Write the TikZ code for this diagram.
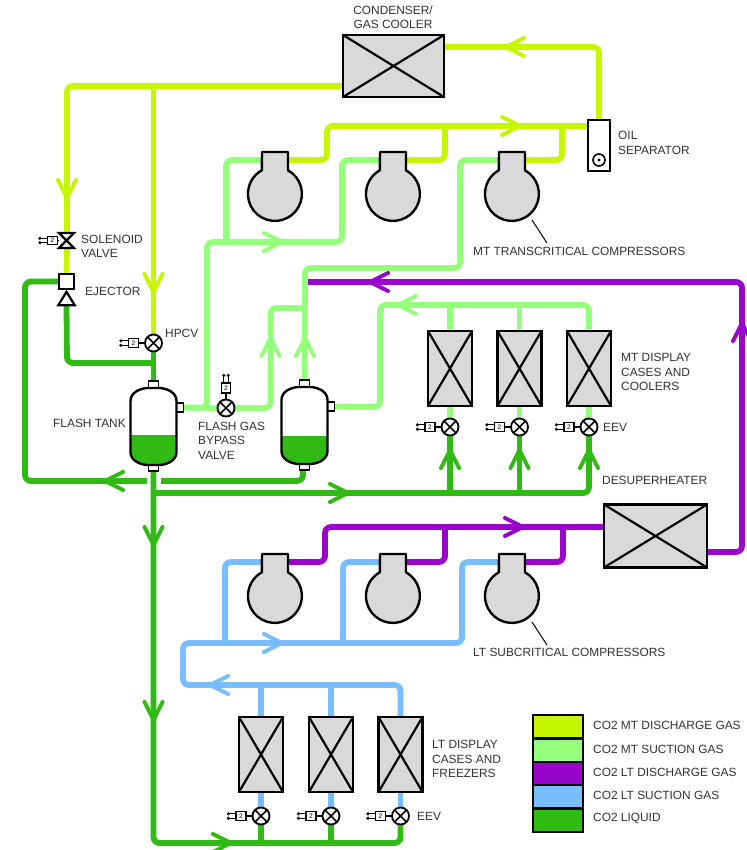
\documentclass[tikz,border=0pt]{standalone}
\usepackage{fontspec}
\setmainfont{Liberation Sans}
\usetikzlibrary{backgrounds}
\definecolor{cyel}{HTML}{C6F700}
\definecolor{clgr}{HTML}{94FF7A}
\definecolor{cpur}{HTML}{9A05CC}
\definecolor{cblu}{HTML}{78BDFF}
\definecolor{cgrn}{HTML}{2FBB14}
\definecolor{cfil}{HTML}{D9D9D9}
\definecolor{ctxt}{HTML}{333333}
\tikzset{
  pipe/.style={line width=5.8pt,rounded corners=6pt,line cap=butt},
  flowtip/.style={line width=4pt,line cap=round,line join=miter},
  xbox/.style={draw=black,fill=cfil,line width=2.4pt,rectangle,inner sep=0pt,outer sep=0pt,
    path picture={\draw[black,line width=2.2pt] (path picture bounding box.north west)--(path picture bounding box.south east)
      (path picture bounding box.north east)--(path picture bounding box.south west);}},
  case/.style={xbox,minimum width=44pt,minimum height=75pt},
  xvalve/.style={circle,draw=black,fill=white,line width=1.8pt,minimum size=17pt,inner sep=0pt,outer sep=0pt,
    path picture={\draw[black,line width=1.6pt] (path picture bounding box.north west)--(path picture bounding box.south east)
      (path picture bounding box.north east)--(path picture bounding box.south west);}},
  actbox/.style={draw=black,fill=white,line width=1.2pt,minimum width=10pt,minimum height=8.5pt,inner sep=0pt,font=\fontsize{6.5}{6.5}\selectfont},
  fitt/.style={draw=black,fill=white,line width=1.6pt,inner sep=0pt,outer sep=0pt},
  lbl/.style={anchor=west,inner sep=0pt,text=ctxt,align=left,font=\fontsize{11.9}{14.4}\selectfont},
  swatch/.style={draw=black,line width=2.4pt,minimum width=50pt,minimum height=23.4pt,inner sep=0pt,outer sep=0pt},
  dev/.style={draw=black,line width=2.4pt,line join=round},
}
\newcommand\tipR[2]{\draw[#1,flowtip] ([shift={(-18pt,9pt)}]#2)--(#2)--([shift={(-18pt,-9pt)}]#2);}
\newcommand\tipL[2]{\draw[#1,flowtip] ([shift={(18pt,9pt)}]#2)--(#2)--([shift={(18pt,-9pt)}]#2);}
\newcommand\tipU[2]{\draw[#1,flowtip] ([shift={(-9pt,-18pt)}]#2)--(#2)--([shift={(9pt,-18pt)}]#2);}
\newcommand\tipD[2]{\draw[#1,flowtip] ([shift={(-9pt,18pt)}]#2)--(#2)--([shift={(9pt,18pt)}]#2);}
% compressor: name, x, y of circle centre
\newcommand\compressor[3]{%
  \node[circle,minimum size=54pt,inner sep=0pt] (#1) at (#2,#3) {};
  \coordinate (#1in) at ([shift={(-13pt,34pt)}]#1.center);
  \coordinate (#1out) at ([shift={(13pt,34pt)}]#1.center);
  \draw[dev,fill=cfil] ([shift={(-13pt,42pt)}]#1.center)--([shift={(13pt,42pt)}]#1.center)
    --([shift={(13pt,23.7pt)}]#1.center) arc[start angle=61,end angle=-241,radius=27pt]--cycle;}
% actuator left of a valve: name, valve, distance
\newcommand\actL[3]{%
  \node[actbox] (#1) at ([xshift=-#3pt]#2.center) {2};
  \draw[black,line width=1.2pt] (#1.east)--(#2.west);
  \draw[black,line width=1.2pt] ([yshift=2.2pt]#1.west)--++(-6pt,0pt) ([yshift=-2.2pt]#1.west)--++(-6pt,0pt);
  \fill[black] ([shift={(-7pt,2.2pt)}]#1.west) circle (1.7pt) ([shift={(-7pt,-2.2pt)}]#1.west) circle (1.7pt);}
% tank: name, x, top y, bottom y, liquid level
\newcommand\tankpath[3]{(#1-23,#2+13) .. controls (#1-23,#2+5) and (#1-15,#2+1) .. (#1-7,#2) -- (#1+7,#2)
  .. controls (#1+15,#2+1) and (#1+23,#2+5) .. (#1+23,#2+13) -- (#1+23,#3-13)
  .. controls (#1+23,#3-5) and (#1+15,#3-1) .. (#1+7,#3) -- (#1-7,#3)
  .. controls (#1-15,#3-1) and (#1-23,#3-5) .. (#1-23,#3-13) -- cycle}
\newcommand\tank[5]{%
  \node[fitt,minimum width=10pt,minimum height=7pt] (#1top) at (#2,#3-3.5) {};
  \node[fitt,minimum width=10pt,minimum height=6pt] (#1bot) at (#2,#4+3) {};
  \node[fitt,minimum width=7pt,minimum height=9pt] (#1side) at (#2+26.5,#3+19.5) {};
  \fill[white] \tankpath{#2}{#3}{#4};
  \begin{scope}
    \clip \tankpath{#2}{#3}{#4};
    \fill[cgrn] (#2-25,#5) rectangle (#2+25,#4+2);
  \end{scope}
  \draw[dev] \tankpath{#2}{#3}{#4};}
\begin{document}
\begin{tikzpicture}[x=1pt,y=-1pt]
\useasboundingbox (0,0) rectangle (746,850);
% ---------- equipment
\node[xbox,minimum width=101pt,minimum height=62pt] (cond) at (393.5,66) {};
\node[xbox,minimum width=103pt,minimum height=63pt] (desup) at (655.5,536) {};
\node[draw=black,fill=white,line width=2.2pt,minimum width=22pt,minimum height=51pt,inner sep=0pt,outer sep=0pt] (oilsep) at (599,145.5) {};
\node[circle,draw=black,line width=1.6pt,minimum size=12pt,inner sep=0pt] (oildot) at (599,160) {};
\fill[black] (oildot.center) circle (1.6pt);
\compressor{mta}{275}{194}
\compressor{mtb}{393}{194}
\compressor{mtc}{512}{194}
\compressor{lta}{275}{596}
\compressor{ltb}{393}{596}
\compressor{ltc}{512}{596}
\tank{ta}{153.5}{388}{465}{435}
\tank{tb}{304.5}{387}{464}{436}
% display cases
\node[case] (mc1) at (450,368.5) {};
\node[case] (mc2) at (519.5,368.5) {};
\node[case] (mc3) at (589,368.5) {};
\node[case] (lc1) at (261,754.5) {};
\node[case] (lc2) at (331,754.5) {};
\node[case] (lc3) at (400.5,754.5) {};
% valves
\node[xvalve] (hpcv) at (153.5,343) {};
\node[xvalve] (fgb) at (226,408) {};
\node[xvalve] (me1) at (450,427) {};
\node[xvalve] (me2) at (519.5,427) {};
\node[xvalve] (me3) at (589,427) {};
\node[xvalve] (le1) at (261,816) {};
\node[xvalve] (le2) at (331,816) {};
\node[xvalve] (le3) at (400.5,816) {};
\actL{ahp}{hpcv}{20}
\actL{am1}{me1}{20}
\actL{am2}{me2}{20}
\actL{am3}{me3}{20}
\actL{al1}{le1}{20}
\actL{al2}{le2}{20}
\actL{al3}{le3}{20}
% flash gas bypass actuator (above valve)
\node[actbox,minimum width=8.5pt,minimum height=10pt] (afg) at ([yshift=20pt]fgb.center) {2};
\draw[black,line width=1.2pt] (afg.south)--(fgb.north);
\draw[black,line width=1.2pt] ([xshift=-2.2pt]afg.north)--++(0,-6) ([xshift=2.2pt]afg.north)--++(0,-6);
\fill[black] ([shift={(-2.2pt,7pt)}]afg.north) circle (1.7pt) ([shift={(2.2pt,7pt)}]afg.north) circle (1.7pt);
% solenoid valve
\node[inner sep=0pt,minimum size=15pt] (sol) at (66.5,240.5) {};
\draw[black,fill=white,line width=2.2pt,line join=miter] (59,233)--(74,233)--(66.5,240.5)--(59,248)--(74,248)--(66.5,240.5)--cycle;
\actL{aso}{sol}{14}
% ejector
\node[fitt,line width=2.2pt,minimum size=15pt] (ejbox) at (66.5,281.5) {};
\node[inner sep=0pt,minimum width=16pt,minimum height=13pt] (ejtri) at (66.5,298.5) {};
\draw[black,fill=white,line width=2.2pt,line join=miter] (ejtri.north)--(ejtri.south east)--(ejtri.south west)--cycle;
% ---------- piping, behind equipment
\begin{pgfonlayer}{background}
\fill[white] (0,0) rectangle (746,850);
% MT discharge
\coordinate (sepT) at (oilsep.north);
\coordinate (sepL) at (oilsep.west |- 126,126);
\draw[pipe,cyel] (cond.east |- 445,47)--(599,47)--(sepT);
\draw[pipe,cyel] (sepL)--(327,126)--(327,160)--(mtaout);
\draw[pipe,cyel] (mtbout)--(445,160)--(445,124);
\draw[pipe,cyel] (mtcout)--(562,160)--(562,124);
\draw[pipe,cyel] (cond.west |- 342,86)--(67,86)--(67,233);
\draw[pipe,cyel] (67,248)--(ejbox.north);
\draw[pipe,cyel] (153.5,84)--(hpcv.north);
% MT suction
\draw[pipe,clgr] (mtain)--(226,160)--(226,244);
\draw[pipe,clgr] (mtbin)--(342,160)--(342,242)--(207,242)--(207,408)--(taside.east);
\draw[pipe,clgr] (mtcin)--(460,160)--(460,268)--(305,268)--(tbtop.north);
\draw[pipe,clgr] (fgb.east)--(270.5,408)--(270.5,308)--(307,308);
\draw[pipe,clgr] (taside.east)--(fgb.west);
\draw[pipe,clgr] (tbside.east)--(380,407)--(380,305)--(589,305)--(mc3.north);
\draw[pipe,clgr] (450,303)--(mc1.north);
\draw[pipe,clgr] (519.5,303)--(mc2.north);
\draw[pipe,clgr] (mc1.south)--(me1.north);
\draw[pipe,clgr] (mc2.south)--(me2.north);
\draw[pipe,clgr] (mc3.south)--(me3.north);
% LT discharge
\draw[pipe,cpur] (desup.west |- 603,527)--(325,527)--(325,562)--(ltaout);
\draw[pipe,cpur] (ltbout)--(445,562)--(445,525);
\draw[pipe,cpur] (ltcout)--(563,562)--(563,525);
\draw[pipe,cpur] (desup.east |- 708,552)--(742,552)--(742,282)--(308,282);
% LT suction
\draw[pipe,cblu] (ltain)--(225,562)--(225,645);
\draw[pipe,cblu] (ltbin)--(343,562)--(343,645);
\draw[pipe,cblu] (ltcin)--(462,562)--(462,643)--(183,643)--(183,685)--(400.5,685)--(lc3.north);
\draw[pipe,cblu] (261,683)--(lc1.north);
\draw[pipe,cblu] (331,683)--(lc2.north);
\draw[pipe,cblu] (lc1.south)--(le1.north);
\draw[pipe,cblu] (lc2.south)--(le2.north);
\draw[pipe,cblu] (lc3.south)--(le3.north);
% liquid
\draw[pipe,cgrn] (hpcv.south)--(tatop.north);
\draw[pipe,cgrn] (153.5,363)--(67,363)--(ejtri.south);
\draw[pipe,cgrn] (ejbox.west)--(25,281.5)--(25,481)--(147,481);
\draw[pipe,cgrn] (161,481)--(303,481)--(303,470);
\draw[pipe,cgrn] (tabot.south)--(153.5,843)--(400.5,843)--(le3.south);
\draw[pipe,cgrn] (le1.south)--(261,845);
\draw[pipe,cgrn] (le2.south)--(331,845);
\draw[pipe,cgrn] (153.5,493)--(589,493)--(me3.south);
\draw[pipe,cgrn] (me1.south)--(450,495);
\draw[pipe,cgrn] (me2.south)--(519.5,495);
\end{pgfonlayer}
% ---------- flow direction heads
\coordinate (h1) at (506,47);\tipL{cyel}{h1}
\coordinate (h2) at (520,126);\tipR{cyel}{h2}
\coordinate (h3) at (67,198);\tipD{cyel}{h3}
\coordinate (h4) at (153.5,292);\tipD{cyel}{h4}
\coordinate (h5) at (282,242);\tipR{clgr}{h5}
\coordinate (h6) at (270.5,338);\tipU{clgr}{h6}
\coordinate (h7) at (305,338);\tipU{clgr}{h7}
\coordinate (h8) at (398,305);\tipL{clgr}{h8}
\coordinate (h9) at (370,282);\tipL{cpur}{h9}
\coordinate (h10) at (742,323);\tipU{cpur}{h10}
\coordinate (h11) at (523,527);\tipR{cpur}{h11}
\coordinate (h12) at (282,643);\tipR{cblu}{h12}
\coordinate (h13) at (210,685);\tipL{cblu}{h13}
\coordinate (h14) at (105,481);\tipL{cgrn}{h14}
\coordinate (h15) at (348,493);\tipR{cgrn}{h15}
\coordinate (h16) at (153.5,545);\tipD{cgrn}{h16}
\coordinate (h17) at (153.5,720);\tipD{cgrn}{h17}
\coordinate (h18) at (450,450);\tipU{cgrn}{h18}
\coordinate (h19) at (519.5,450);\tipU{cgrn}{h19}
\coordinate (h20) at (589,450);\tipU{cgrn}{h20}
\coordinate (h21) at (231,843);\tipR{cgrn}{h21}
% ---------- leaders
\coordinate (l1a) at (532,220);\coordinate (l1b) at (547,243);
\coordinate (l2a) at (532,622);\coordinate (l2b) at (547,645);
\draw[black,line width=1pt] (l1a)--(l1b) (l2a)--(l2b);
% ---------- labels
\node[lbl,anchor=center,align=center] (tcond) at (393,17.5) {CONDENSER/\\GAS COOLER};
\node[lbl] (tsol) at (81,246.5) {SOLENOID\\VALVE};
\node[lbl] (tej) at (85,291) {EJECTOR};
\node[lbl] (thp) at (165,333) {HPCV};
\node[lbl] (tft) at (53,423) {FLASH TANK};
\node[lbl] (tfg) at (198,440.5) {FLASH GAS\\BYPASS\\VALVE};
\node[lbl] (toil) at (618,143) {OIL\\SEPARATOR};
\node[lbl] (tmt) at (473,251) {MT TRANSCRITICAL COMPRESSORS};
\node[lbl] (tmd) at (621,372) {MT DISPLAY\\CASES AND\\COOLERS};
\node[lbl] (tee1) at (603,427) {EEV};
\node[lbl] (tde) at (602,480) {DESUPERHEATER};
\node[lbl] (tlt) at (473,652) {LT SUBCRITICAL COMPRESSORS};
\node[lbl] (tld) at (432,759) {LT DISPLAY\\CASES AND\\FREEZERS};
\node[lbl] (tee2) at (417,816) {EEV};
% ---------- legend
\node[swatch,fill=cyel] (lg1) at (558,726.7) {};
\node[swatch,fill=clgr] (lg2) at (558,750.1) {};
\node[swatch,fill=cpur] (lg3) at (558,773.5) {};
\node[swatch,fill=cblu] (lg4) at (558,796.9) {};
\node[swatch,fill=cgrn] (lg5) at (558,820.3) {};
\node[lbl] (lt1) at (593,725) {CO2 MT DISCHARGE GAS};
\node[lbl] (lt2) at (593,749) {CO2 MT SUCTION GAS};
\node[lbl] (lt3) at (593,772) {CO2 LT DISCHARGE GAS};
\node[lbl] (lt4) at (593,795) {CO2 LT SUCTION GAS};
\node[lbl] (lt5) at (593,818) {CO2 LIQUID};
\end{tikzpicture}
\end{document}
